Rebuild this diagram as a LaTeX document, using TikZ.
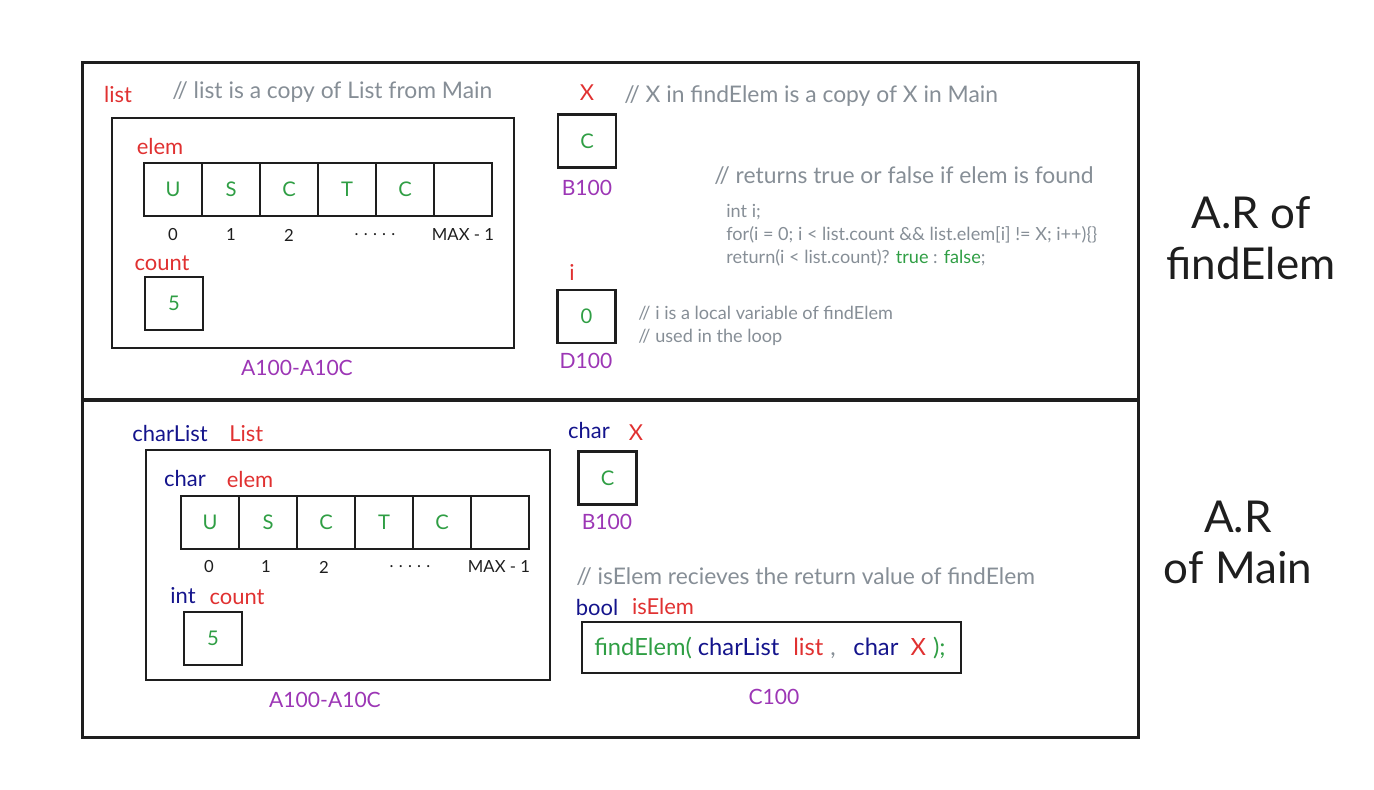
\documentclass[tikz,border=0pt]{standalone}
\usepackage{fontspec}
\setmainfont{Lato}
\definecolor{exred}{HTML}{E03131}
\definecolor{exgreen}{HTML}{2F9E44}
\definecolor{exblue}{HTML}{14148C}
\definecolor{expurple}{HTML}{9C36B5}
\definecolor{exgray}{HTML}{868E96}
\definecolor{exink}{HTML}{1E1E1E}
\tikzset{
    frame/.style={draw=exink, line width=1.7pt},
    cell/.style={draw=exink, line width=1.4pt, minimum width=1.16cm, minimum height=1.06cm, inner sep=0pt, text=exgreen, font=\fontsize{11.5}{13}\selectfont},
    holder/.style={draw=exink, line width=1.4pt, inner sep=0pt},
    varname/.style={text=exred, font=\fontsize{12.5}{14}\selectfont, inner sep=0pt},
    typename/.style={text=exblue, font=\fontsize{12.5}{14}\selectfont, inner sep=0pt},
    addr/.style={text=expurple, font=\fontsize{12}{14}\selectfont, inner sep=0pt},
    idx/.style={text=exink, font=\fontsize{9.5}{11}\selectfont, inner sep=0pt},
    note/.style={text=exgray, font=\fontsize{13}{15}\selectfont, inner sep=0pt, anchor=west},
    smallnote/.style={text=exgray, font=\fontsize{10.3}{13}\selectfont, inner sep=0pt, anchor=west, align=left},
    title/.style={text=exink, font=\fontsize{25}{29}\selectfont, align=center, inner sep=0pt}
}
\begin{document}
\begin{tikzpicture}[x=0.02cm, y=-0.02cm]
    \useasboundingbox (0,0) rectangle (1374,790);
    % activation records
    \node[frame, minimum width=21.14cm, minimum height=6.76cm, inner sep=0pt] (findAR) at (610.5,231) {};
    \node[frame, minimum width=21.14cm, minimum height=6.76cm, inner sep=0pt] (mainAR) at (610.5,569) {};
    \node[title] (findTitle) at (1251,238) {A.R of\\findElem};
    \node[title] (mainTitle) at (1238,542) {A.R\\of Main};

    % findElem: list
    \node[varname] (listName) at (118,95) {list};
    \node[note] (listNote) at (172,92) {// list is a copy of List from Main};
    \node[holder, minimum width=8.04cm, minimum height=4.6cm] (listBox) at (313,233) {};
    \node[varname] (elemName) at (160,146) {elem};
    \node[cell] (e0) at (173,189.5) {U};
    \node[cell] (e1) at (231,189.5) {S};
    \node[cell] (e2) at (289,189.5) {C};
    \node[cell] (e3) at (347,189.5) {T};
    \node[cell] (e4) at (405,189.5) {C};
    \node[cell] (e5) at (463,189.5) {};
    \node[idx] (i0) at (173,235) {0};
    \node[idx] (i1) at (231,235) {1};
    \node[idx] (i2) at (289,235) {2};
    \node[idx] (i3) at (375,235) {.\hspace{3pt}.\hspace{3pt}.\hspace{3pt}.\hspace{3pt}.};
    \node[idx] (i5) at (463,235) {MAX - 1};
    \node[varname] (countName) at (162,263) {count};
    \node[cell] (count) at (174,303.5) {5};
    \node[addr] (listAddr) at (297,368) {A100-A10C};

    % findElem: X and i
    \node[varname] (xName) at (587,93) {X};
    \node[note] (xNote) at (624,96) {// X in findElem is a copy of X in Main};
    \node[cell] (xCell) at (587,141) {C};
    \node[addr] (xAddr) at (587,188) {B100};
    \node[note] (retNote) at (714,176) {// returns true or false if elem is found};
    \node[smallnote, anchor=north west] (body) at (726,204) {int i;\\
        for(i = 0; i < list.count \&\& list.elem[i] != X; i++)\{\}\\
        return(i < list.count)? \textcolor{exgreen}{true} : \textcolor{exgreen}{false};};
    \node[varname] (iName) at (572,272) {i};
    \node[cell] (iCell) at (586.5,316.5) {0};
    \node[addr] (iAddr) at (586,361) {D100};
    \node[smallnote] (iNote) at (638,326) {// i is a local variable of findElem\\// used in the loop};

    % Main: charList List
    \node[typename, anchor=west] (listType) at (132,434) {charList};
    \node[varname, anchor=west] (bigList) at (229,434) {List};
    \node[holder, minimum width=8.08cm, minimum height=4.6cm] (mainBox) at (348,565) {};
    \node[typename] (elemType) at (185,479) {char};
    \node[varname] (mElemName) at (250,479) {elem};
    \node[cell] (m0) at (210,522.5) {U};
    \node[cell] (m1) at (268,522.5) {S};
    \node[cell] (m2) at (326,522.5) {C};
    \node[cell] (m3) at (384,522.5) {T};
    \node[cell] (m4) at (442,522.5) {C};
    \node[cell] (m5) at (500,522.5) {};
    \node[idx] (j0) at (209,567) {0};
    \node[idx] (j1) at (266,567) {1};
    \node[idx] (j2) at (324,567) {2};
    \node[idx] (j3) at (410,567) {.\hspace{3pt}.\hspace{3pt}.\hspace{3pt}.\hspace{3pt}.};
    \node[idx] (j5) at (499,567) {MAX - 1};
    \node[typename] (countType) at (183,596) {int};
    \node[varname] (mCountName) at (237,597) {count};
    \node[cell] (mCount) at (213,638.5) {5};
    \node[addr] (mainAddr) at (325,700) {A100-A10C};

    % Main: X and isElem
    \node[typename] (xType) at (589,431) {char};
    \node[varname] (mxName) at (636,433) {X};
    \node[cell] (mxCell) at (607.5,478) {C};
    \node[addr] (mxAddr) at (607,522) {B100};
    \node[note] (isNote) at (576,577) {// isElem recieves the return value of findElem};
    \node[typename] (boolType) at (597,607) {bool};
    \node[varname] (isName) at (663,607) {isElem};
    \node[holder, minimum width=7.58cm, minimum height=1.02cm] (call) at (771.5,647.5) {};
    \node[anchor=west, inner sep=0pt, font=\fontsize{13.5}{15}\selectfont] (callText) at (594,648)
        {\textcolor{exgreen}{findElem(} \textcolor{exblue}{charList}\hspace{8pt}\textcolor{exred}{list}\hspace{4pt}\textcolor{exgray}{,}\hspace{10pt}\textcolor{exblue}{char}\hspace{7pt}\textcolor{exred}{X}\hspace{4pt}\textcolor{exgreen}{);}};
    \node[addr] (callAddr) at (774,697) {C100};
\end{tikzpicture}
\end{document}
